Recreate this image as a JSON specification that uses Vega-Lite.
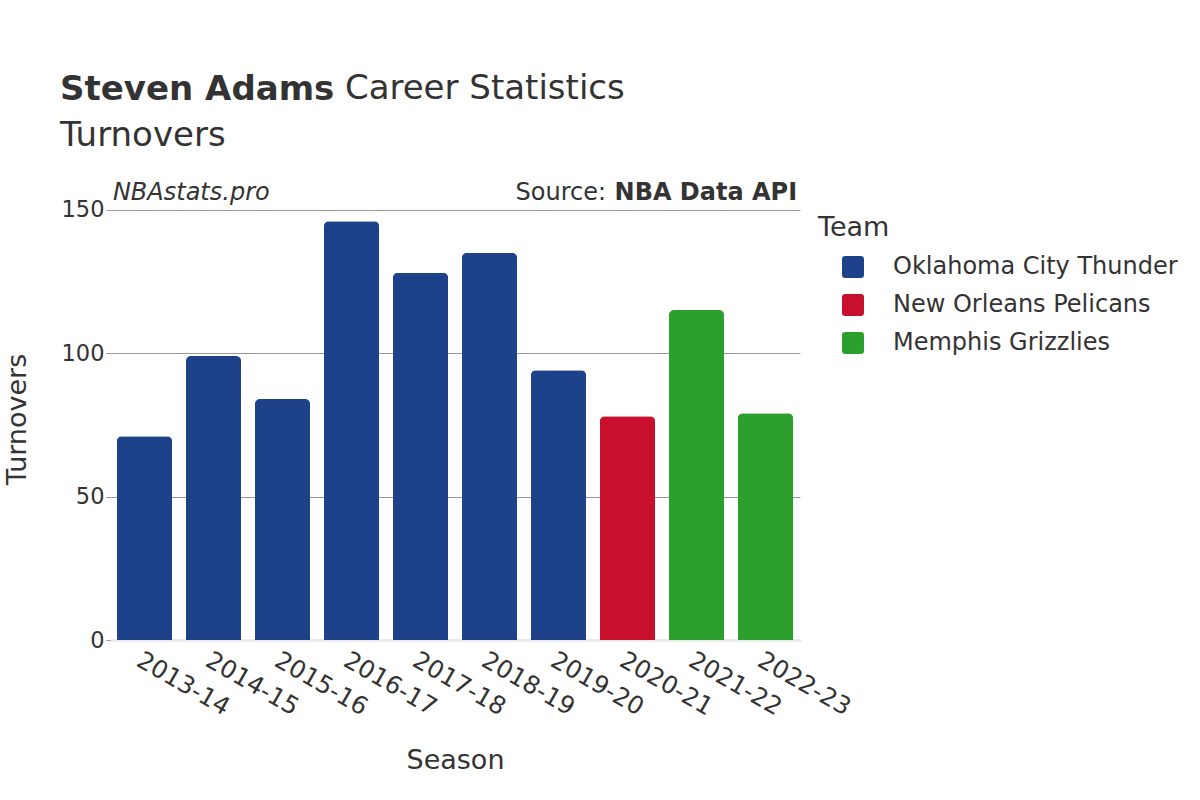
{
  "$schema": "https://vega.github.io/schema/vega-lite/v6.json",
  "autosize": {"type": "none"},
  "width": 690,
  "height": 459,
  "padding": {"left": 110, "top": 181, "right": 400, "bottom": 160},
  "background": "white",
  "config": {
    "font": "DejaVu Sans",
    "view": {"stroke": null},
    "axis": {"labelColor": "#333333", "titleColor": "#333333", "titleFontWeight": "normal"}
  },
  "title": {
    "text": "Steven Adams",
    "subtitle": "Turnovers",
    "anchor": "start",
    "frame": "group",
    "dx": -50,
    "fontSize": 34,
    "fontWeight": "bold",
    "color": "#333333",
    "subtitleFontSize": 34,
    "subtitleColor": "#333333",
    "subtitlePadding": 12,
    "offset": -81
  },
  "layer": [
    {
      "data": {
        "values": [
          {"season": "2013-14", "team": "Oklahoma City Thunder", "turnovers": 71},
          {"season": "2014-15", "team": "Oklahoma City Thunder", "turnovers": 99},
          {"season": "2015-16", "team": "Oklahoma City Thunder", "turnovers": 84},
          {"season": "2016-17", "team": "Oklahoma City Thunder", "turnovers": 146},
          {"season": "2017-18", "team": "Oklahoma City Thunder", "turnovers": 128},
          {"season": "2018-19", "team": "Oklahoma City Thunder", "turnovers": 135},
          {"season": "2019-20", "team": "Oklahoma City Thunder", "turnovers": 94},
          {"season": "2020-21", "team": "New Orleans Pelicans", "turnovers": 78},
          {"season": "2021-22", "team": "Memphis Grizzlies", "turnovers": 115},
          {"season": "2022-23", "team": "Memphis Grizzlies", "turnovers": 79}
        ]
      },
      "mark": {"type": "bar", "cornerRadiusTopLeft": 5, "cornerRadiusTopRight": 5},
      "encoding": {
        "x": {
          "field": "season",
          "type": "nominal",
          "title": "Season",
          "scale": {"paddingInner": 0.2, "paddingOuter": 0.1},
          "axis": {
            "labelAngle": 30,
            "labelFontSize": 24.5,
            "labelPadding": 8,
            "titleFontSize": 27,
            "titlePadding": 28,
            "ticks": false,
            "domainColor": "#ebebeb",
            "domainWidth": 3
          }
        },
        "y": {
          "field": "turnovers",
          "type": "quantitative",
          "title": "Turnovers",
          "scale": {"domain": [0, 150]},
          "axis": {
            "values": [0, 50, 100, 150],
            "labelFontSize": 22.5,
            "labelPadding": 2,
            "tickSize": 4,
            "tickColor": "#999999",
            "gridColor": "#999999",
            "domain": false,
            "titleFontSize": 27,
            "titlePadding": 30,
            "titleY": 238
          }
        },
        "color": {
          "field": "team",
          "type": "nominal",
          "title": "Team",
          "scale": {
            "domain": ["Oklahoma City Thunder", "New Orleans Pelicans", "Memphis Grizzlies"],
            "range": ["#1d428a", "#c8102e", "#2ca02c"]
          },
          "legend": {
            "orient": "none",
            "legendX": 708,
            "legendY": 34,
            "titleFontSize": 27,
            "titleFontWeight": "normal",
            "titleColor": "#333333",
            "titlePadding": 13,
            "labelFontSize": 24,
            "labelColor": "#333333",
            "labelLimit": 400,
            "labelOffset": 28,
            "symbolOffset": 23,
            "symbolSize": 484,
            "symbolType": "M -0.7 -1 H 0.7 Q 1 -1 1 -0.7 V 0.7 Q 1 1 0.7 1 H -0.7 Q -1 1 -1 0.7 V -0.7 Q -1 -1 -0.7 -1 Z",
            "symbolStrokeWidth": 0,
            "rowPadding": 14,
            "padding": 0
          }
        }
      }
    },
    {
      "data": {"values": [{"label": "NBAstats.pro"}]},
      "mark": {"type": "text", "align": "left", "baseline": "alphabetic", "fontSize": 24, "fontStyle": "italic", "color": "#333333", "dx": -4, "dy": -10},
      "encoding": {
        "text": {"field": "label"},
        "x": {"datum": "2013-14", "bandPosition": 0},
        "y": {"datum": 150}
      }
    },
    {
      "data": {"values": [{"label": "NBA Data API"}]},
      "mark": {"type": "text", "align": "right", "baseline": "alphabetic", "fontSize": 24, "fontWeight": "bold", "color": "#333333", "dx": 4, "dy": -10},
      "encoding": {
        "text": {"field": "label"},
        "x": {"datum": "2022-23", "bandPosition": 1},
        "y": {"datum": 150}
      }
    },
    {
      "data": {"values": [{"label": "Source:"}]},
      "mark": {"type": "text", "align": "right", "baseline": "alphabetic", "fontSize": 24, "color": "#333333", "dx": -187, "dy": -10},
      "encoding": {
        "text": {"field": "label"},
        "x": {"datum": "2022-23", "bandPosition": 1},
        "y": {"datum": 150}
      }
    },
    {
      "data": {"values": [{"label": "Career Statistics"}]},
      "mark": {"type": "text", "align": "left", "baseline": "alphabetic", "fontSize": 34, "color": "#333333", "dx": 228, "dy": -111},
      "encoding": {
        "text": {"field": "label"},
        "x": {"datum": "2013-14", "bandPosition": 0},
        "y": {"datum": 150}
      }
    }
  ]
}
